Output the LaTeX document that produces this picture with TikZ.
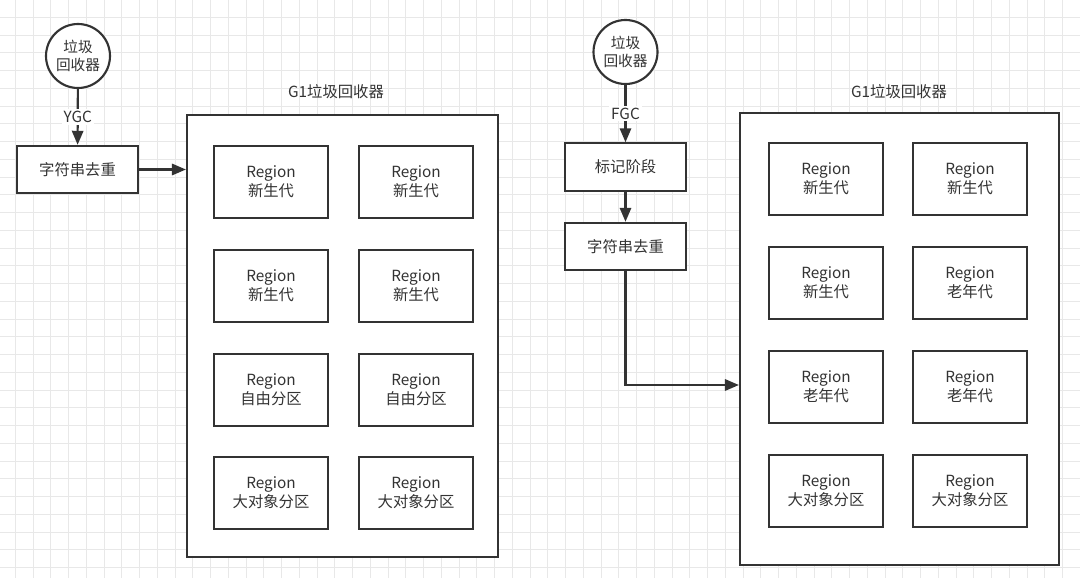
\documentclass[tikz,border=0pt]{standalone}
\usepackage{fontspec}
\setmainfont{Noto Sans CJK SC}
\usepackage{xcolor}
\usepackage{tikz}
\usetikzlibrary{arrows.meta,positioning,calc}
\definecolor{gcink}{HTML}{333333}
\definecolor{gcgrid}{HTML}{E8E8E8}
\tikzset{
  flowarrow/.style={-{Triangle[length=10.5pt,width=8.5pt]}, line width=1.6pt, draw=gcink},
  stepbox/.style={draw=gcink, line width=1.6pt, fill=white, text=gcink,
    align=center, inner sep=2pt, minimum width=90.75pt, minimum height=35.5pt, font=\fontsize{11.5}{14}\selectfont},
  regionbox/.style={draw=gcink, line width=1.6pt, fill=white, text=gcink,
    align=center, inner sep=2pt, minimum width=86pt, minimum height=54pt, font=\fontsize{11.5}{14}\selectfont},
  gcnode/.style={circle, draw=gcink, line width=1.6pt, fill=white, text=gcink,
    align=center, inner sep=0pt, minimum size=48pt, font=\fontsize{11}{14}\selectfont},
  gridline/.style={draw=gcgrid, line width=0.6pt}
}

\begin{document}
\begin{tikzpicture}[
        x=0.75pt,y=-0.75pt,
        heapbox/.style={draw=gcink, line width=1.6pt, fill=white},
        edgelabel/.style={fill=white, text=gcink, inner sep=1.5pt, font=\fontsize{11.5}{13}\selectfont},
        heaptitle/.style={text=gcink, font=\fontsize{11.5}{13}\selectfont}
    ]
        \useasboundingbox (0,0) rectangle (1080,578);
        \fill[white] (0,0) rectangle (1080,578);
        % background grid
        \foreach \i in {0,...,60}
            \draw[gridline] ({15.3+\i*17.75},0) -- ++(0,578);
        \foreach \j in {0,...,32}
            \draw[gridline] (0,{-0.55+\j*17.75}) -- ++(1080,0);

        % young gc side
        \node[gcnode] (gc1) at (78,56) {垃圾\\回收器};
        \node[stepbox] (dedup1) at (77.5,169.5) {字符串去重};
        \node[heapbox, minimum width=233.25pt, minimum height=331.5pt] (heap1) at (342.5,336) {};
        \node[heaptitle] (title1) at (336,92) {G1垃圾回收器};

        \node[regionbox] (r1a) at (271,182) {Region\\新生代};
        \node[regionbox] (r1b) at (416,182) {Region\\新生代};
        \node[regionbox] (r1c) at (271,286) {Region\\新生代};
        \node[regionbox] (r1d) at (416,286) {Region\\新生代};
        \node[regionbox] (r1e) at (271,390) {Region\\自由分区};
        \node[regionbox] (r1f) at (416,390) {Region\\自由分区};
        \node[regionbox] (r1g) at (271,493) {Region\\大对象分区};
        \node[regionbox] (r1h) at (416,493) {Region\\大对象分区};

        % full gc side
        \node[gcnode] (gc2) at (625.5,52) {垃圾\\回收器};
        \node[stepbox] (mark2) at (625.5,167) {标记阶段};
        \node[stepbox] (dedup2) at (625.5,246.5) {字符串去重};
        \node[heapbox, minimum width=239.25pt, minimum height=339pt] (heap2) at (899.5,339) {};
        \node[heaptitle] (title2) at (899,92) {G1垃圾回收器};
        \coordinate (turn2) at (625.5,385);

        \node[regionbox] (r2a) at (826,179) {Region\\新生代};
        \node[regionbox] (r2b) at (970,179) {Region\\新生代};
        \node[regionbox] (r2c) at (826,283) {Region\\新生代};
        \node[regionbox] (r2d) at (970,283) {Region\\老年代};
        \node[regionbox] (r2e) at (826,387) {Region\\老年代};
        \node[regionbox] (r2f) at (970,387) {Region\\老年代};
        \node[regionbox] (r2g) at (826,491) {Region\\大对象分区};
        \node[regionbox] (r2h) at (970,491) {Region\\大对象分区};

        % connectors
        \draw[flowarrow] (gc1) -- node[edgelabel] {YGC} (dedup1);
        \draw[flowarrow] (dedup1.east) -- (dedup1.east -| heap1.west);
        \draw[flowarrow] (gc2) -- node[edgelabel] {FGC} (mark2);
        \draw[flowarrow] (mark2) -- (dedup2);
        \draw[flowarrow] (dedup2.south) -- (turn2) -- (turn2 -| heap2.west);
    \end{tikzpicture}
\end{document}
